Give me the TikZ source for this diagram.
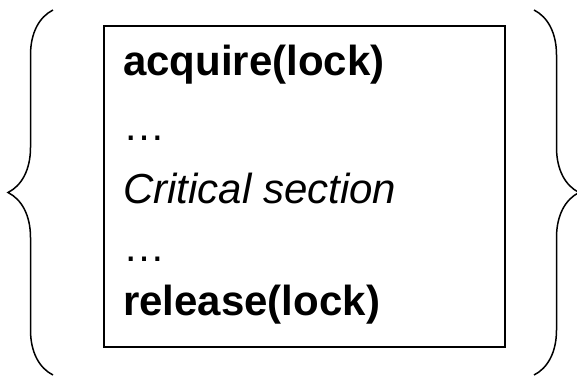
\documentclass[tikz,border=0pt]{standalone}
\usepackage{fontspec}
\setmainfont{Liberation Sans}
\usetikzlibrary{decorations.pathreplacing}
\tikzset{
  codeline/.style={anchor=base west, inner sep=0pt, font=\fontsize{42}{50}\selectfont},
  bracket/.style={decorate, decoration={brace, amplitude=45pt}, line width=1.5pt},
}
\begin{document}
\begin{tikzpicture}[x=1pt,y=-1pt]
    \useasboundingbox (0,0) rectangle (577,376);
    % Nodes
    \node (box) [draw, line width=2.2pt, inner sep=0pt, minimum width=401pt, minimum height=321pt] at (304.5,186.5) {};
    \node (acq) [codeline] at (123,75) {\textbf{acquire(lock)}};
    \node (dots1) [codeline] at (123,140) {…};
    \node (cs) [codeline] at (123,203) {\textit{Critical section}};
    \node (dots2) [codeline] at (123,261) {…};
    \node (rel) [codeline] at (123,315) {\textbf{release(lock)}};
    \coordinate (lt) at (53,10);
    \coordinate (lb) at (53,375);
    \coordinate (rt) at (534,10);
    \coordinate (rb) at (534,375);

    % Braces
    \draw [bracket] (lb) -- (lt);
    \draw [bracket] (rt) -- (rb);
\end{tikzpicture}
\end{document}
